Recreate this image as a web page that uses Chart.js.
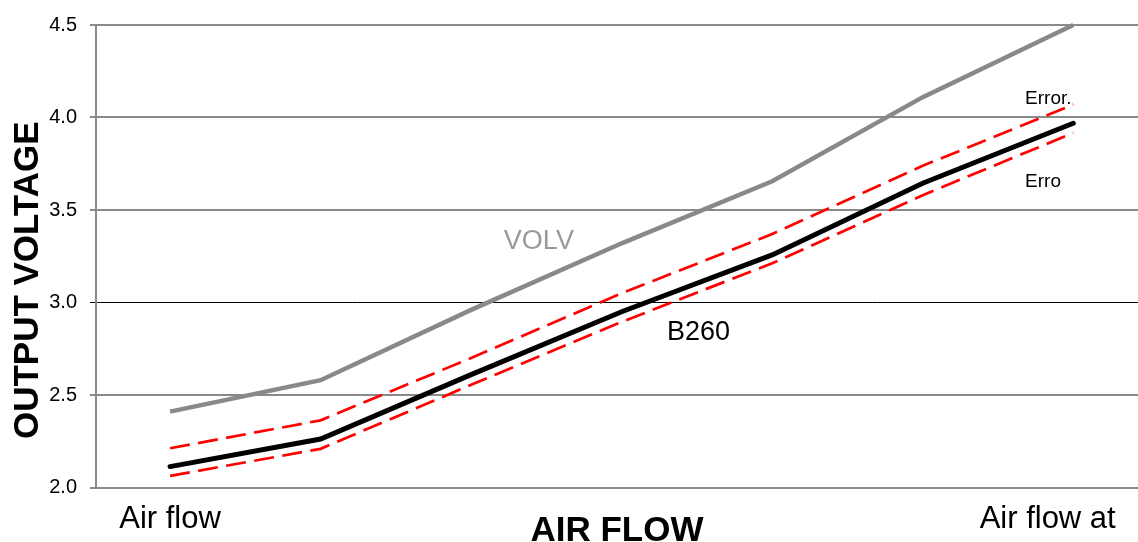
<!DOCTYPE html>
<html>
<head>
<meta charset="utf-8">
<script src="https://cdn.jsdelivr.net/npm/chart.js@4/dist/chart.umd.min.js"></script>
<style>
  html, body { margin: 0; padding: 0; background: #ffffff; }
  #wrap { width: 1138px; height: 542px; }
</style>
</head>
<body>
<div id="wrap"><canvas id="c" width="1138" height="542"></canvas></div>
<script>
// ---- data ----
const points = [0, 1, 2, 3, 4, 5, 6];
const xTickLabels = ['Air flow', 'Air flow at'];
const yTicks = [2.0, 2.5, 3.0, 3.5, 4.0, 4.5];
const volv  = [2.41, 2.58, 2.96, 3.32, 3.655, 4.11, 4.5];
const b260  = [2.113, 2.262, 2.61, 2.95, 3.257, 3.645, 3.969];
const errHi = [2.212, 2.363, 2.70, 3.05, 3.37, 3.739, 4.07];
const errLo = [2.063, 2.209, 2.555, 2.895, 3.212, 3.58, 3.917];
const seriesNames = ['VOLV', 'B260', 'Error.', 'Erro'];
const xTitle = 'AIR FLOW';
const yTitle = 'OUTPUT VOLTAGE';

const FONT = '"Liberation Sans", Arial, sans-serif';
const xTickPos = [0, 5.83];

const toXY = arr => arr.map((v, i) => ({ x: points[i], y: v }));

// Inline labels and the y title drawn in canvas text
const annot = {
  id: 'annot',
  afterDatasetsDraw(chart) {
    const { ctx, scales: { x, y } } = chart;
    ctx.save();
    ctx.textBaseline = 'middle';
    ctx.textAlign = 'center';
    ctx.font = '27px ' + FONT;
    ctx.fillStyle = '#999999';
    ctx.fillText(seriesNames[0], x.getPixelForValue(2.45), y.getPixelForValue(3.33));
    ctx.fillStyle = '#000000';
    ctx.fillText(seriesNames[1], x.getPixelForValue(3.51), y.getPixelForValue(2.84));
    ctx.textAlign = 'left';
    ctx.font = '19px ' + FONT;
    ctx.fillText(seriesNames[2], x.getPixelForValue(5.68), y.getPixelForValue(4.1));
    ctx.fillText(seriesNames[3], x.getPixelForValue(5.68), y.getPixelForValue(3.65));
    // y title
    ctx.font = 'bold 35px ' + FONT;
    ctx.textAlign = 'center';
    ctx.translate(28, y.getPixelForValue(3.12));
    ctx.rotate(-Math.PI / 2);
    ctx.fillText(yTitle, 0, 0);
    ctx.restore();
  }
};

new Chart(document.getElementById('c'), {
  type: 'line',
  data: {
    datasets: [
      { label: seriesNames[0], data: toXY(volv), borderColor: '#898989', borderWidth: 4.5, pointRadius: 0, tension: 0, clip: false, borderCapStyle: 'butt' },
      { label: seriesNames[2], data: toXY(errHi), borderColor: '#ff0000', borderWidth: 2.7, borderDash: [20, 8.5], pointRadius: 0, tension: 0, clip: false },
      { label: seriesNames[3], data: toXY(errLo), borderColor: '#ff0000', borderWidth: 2.7, borderDash: [20, 8.5], pointRadius: 0, tension: 0, clip: false },
      { label: seriesNames[1], data: toXY(b260), borderColor: '#000000', borderWidth: 5, pointRadius: 0, tension: 0, clip: false, borderCapStyle: 'round' }
    ]
  },
  options: {
    responsive: false,
    animation: false,
    devicePixelRatio: 1,
    layout: { padding: { top: 22, right: 0, left: 0, bottom: 0 } },
    plugins: { legend: { display: false }, tooltip: { enabled: false }, title: { display: false } },
    scales: {
      x: {
        type: 'linear',
        min: -0.492,
        max: 6.43,
        afterBuildTicks(scale) { scale.ticks = xTickPos.map(v => ({ value: v })); },
        afterFit(scale) { scale.height = 54.5; },
        ticks: {
          autoSkip: false,
          maxRotation: 0,
          padding: 13,
          color: '#000000',
          font: { family: FONT, size: 31 },
          callback(value, index) { return xTickLabels[index]; }
        },
        grid: { display: false, drawTicks: false },
        border: { display: false },
        title: {
          display: true,
          text: xTitle,
          color: '#000000',
          font: { family: FONT, size: 35, weight: 'bold' },
          padding: { top: 0, bottom: -10 }
        }
      },
      y: {
        min: 2,
        max: 4.5,
        afterBuildTicks(scale) { scale.ticks = yTicks.map(v => ({ value: v })); },
        afterFit(scale) { scale.width = 96; },
        ticks: {
          padding: 13,
          color: '#000000',
          font: { family: FONT, size: 20 },
          callback(value) { return Number(value).toFixed(1); }
        },
        grid: {
          drawTicks: true,
          tickLength: 6,
          color: ctx => (ctx.tick && ctx.tick.value === 3) ? '#000000' : '#8a8a8a',
          lineWidth: ctx => (ctx.tick && ctx.tick.value === 3) ? 1 : 2
        },
        border: { display: true, color: '#8a8a8a', width: 2 }
      }
    }
  },
  plugins: [annot]
});
</script>
</body>
</html>
